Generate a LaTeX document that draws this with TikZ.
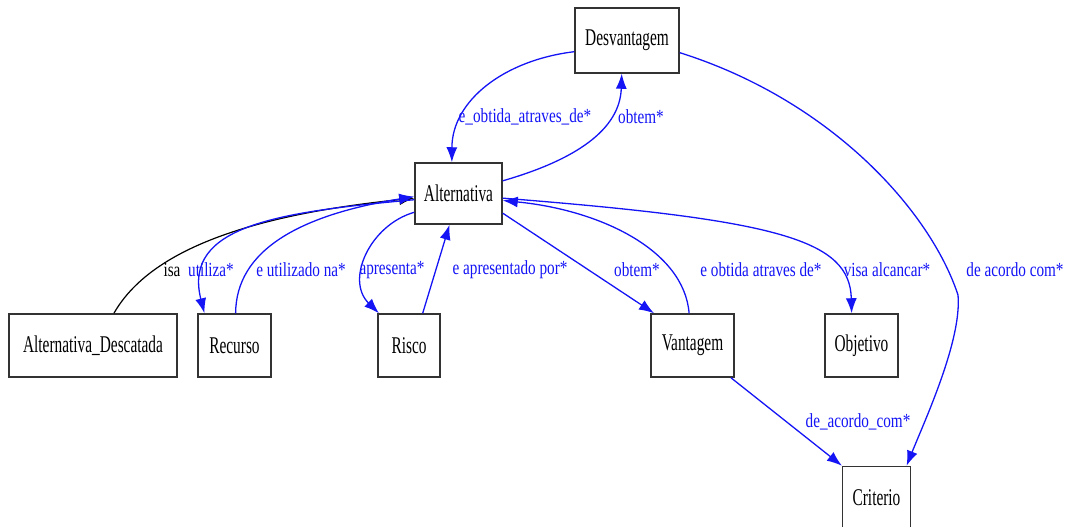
\documentclass[tikz,border=0pt]{standalone}
\usepackage{fontspec}
\usetikzlibrary{arrows.meta}
\newfontfamily\boxfont[FakeStretch=0.64]{Liberation Serif}
\newfontfamily\relfont[FakeStretch=0.76]{Liberation Serif}
\definecolor{relblue}{RGB}{20,20,245}
\tikzset{
  cls/.style={draw=black!80, line width=1.5pt, fill=white, inner sep=0pt,
    font=\boxfont\fontsize{24}{24}\selectfont},
  rel/.style={draw=relblue, line width=1.3pt,
    -{Latex[length=15pt,width=11pt]}},
  isarel/.style={draw=black, line width=1.2pt,
    -{Latex[length=15pt,width=11pt]}},
  rlabel/.style={text=relblue, inner sep=0pt,
    font=\relfont\fontsize{20}{20}\selectfont},
  ilabel/.style={text=black, inner sep=0pt,
    font=\relfont\fontsize{20}{20}\selectfont}
}
\begin{document}
\begin{tikzpicture}[x=1pt,y=-1pt]
\useasboundingbox (0,0) rectangle (1076,527);

% classes
\node[cls, minimum width=104pt, minimum height=65pt] (D)  at (627,40.5)  {Desvantagem};
\node[cls, minimum width=87pt,  minimum height=61pt] (A)  at (458.5,193.5) {Alternativa};
\node[cls, minimum width=168pt, minimum height=63pt] (AD) at (93,345.5)  {Alternativa\_Descatada};
\node[cls, minimum width=73pt,  minimum height=63pt] (R)  at (234.5,345.5) {Recurso};
\node[cls, minimum width=62pt,  minimum height=63pt] (Ri) at (409,345.5) {Risco};
\node[cls, minimum width=83pt,  minimum height=63pt] (V)  at (692.5,345.5) {Vantagem};
\node[cls, minimum width=73pt,  minimum height=63pt] (O)  at (861.5,345.5) {Objetivo};
\node[cls, minimum width=68pt,  minimum height=63pt] (C)  at (876.5,498)  {Criterio};

% relations
\draw[rel] (D.192.5) .. controls (505,60) and (452,100) .. (A.102);
\draw[rel] (A.16) .. controls (575,160) and (620,130) .. (D.261);
\draw[rel] (D.347.5) .. controls (830,100) and (930,210) .. (958,295)
                     .. controls (962,340) and (925,420) .. (C.47.5);
\draw[isarel] (AD.57.6) .. controls (150,250) and (250,215) .. (A.186);
\draw[rel] (A.188.5) .. controls (280,212) and (182,225) .. (R.133);
\draw[rel] (R.88) .. controls (236,250) and (300,215) .. (A.184);
\draw[rel] (A.203) .. controls (370,225) and (345,280) .. (Ri.133);
\draw[rel] (Ri.67.6) -- (A.254);
\draw[rel] (A.336) -- (V.140);
\draw[rel] (V.96) .. controls (684,250) and (600,210) .. (A.351.5);
\draw[rel] (A.354) .. controls (780,220) and (850,240) .. (O.107);
\draw[rel] (V.320) -- (C.137);

% relation labels
\node[rlabel] (l1)  at (525,117) {e\_obtida\_atraves\_de*};
\node[rlabel] (l2)  at (641,117) {obtem*};
\node[rlabel] (l3)  at (1015,270) {de acordo com*};
\node[ilabel] (l4)  at (172,270) {isa};
\node[rlabel] (l5)  at (211,270) {utiliza*};
\node[rlabel] (l6)  at (301,270) {e utilizado na*};
\node[rlabel] (l7)  at (392,270) {apresenta*};
\node[rlabel] (l8)  at (510,270) {e apresentado por*};
\node[rlabel] (l9)  at (637,270) {obtem*};
\node[rlabel] (l10) at (761,270) {e obtida atraves de*};
\node[rlabel] (l11) at (887,270) {visa alcancar*};
\node[rlabel] (l12) at (858,422) {de\_acordo\_com*};
\end{tikzpicture}
\end{document}
